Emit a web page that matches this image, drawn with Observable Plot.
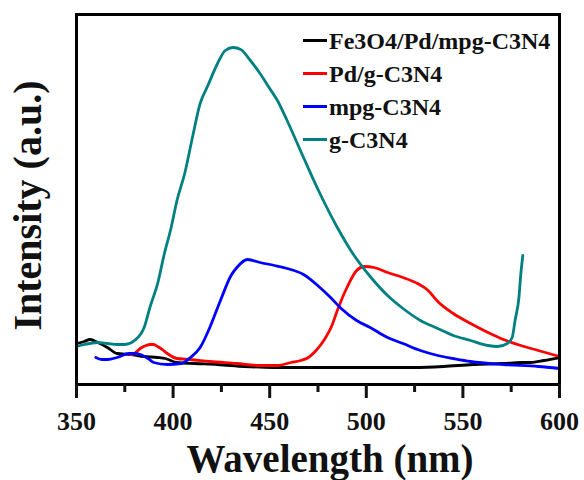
<!DOCTYPE html>
<html>
<head>
<meta charset="utf-8">
<script src="https://cdn.jsdelivr.net/npm/d3@7"></script>
<script src="https://cdn.jsdelivr.net/npm/@observablehq/plot@0.6"></script>
</head>
<body style="margin:0;padding:0;background:#fff">
<div id="wrap" style="position:relative;width:584px;height:480px;font-family:'Liberation Serif'"></div>
<script>
const wavelengthTicks = [350, 400, 450, 500, 550, 600];
const minorTicks = [375, 425, 475, 525, 575];
const seriesNames = ["Fe3O4/Pd/mpg-C3N4", "Pd/g-C3N4", "mpg-C3N4", "g-C3N4"];
const seriesColors = ["#000000", "#ff0000", "#0000ff", "#008080"];

const feWl  = [350, 354, 357, 361, 366, 371, 378, 385, 392, 396, 402, 411, 423, 437, 452, 475, 500, 525, 540, 555, 571, 580, 585, 592, 600];
const feInt = [41, 43, 45, 42, 37, 31, 30, 28, 27, 26, 22, 21, 20, 18, 17, 17, 17, 17, 18, 20, 21, 22, 22, 24, 27];

const pdWl  = [378, 380, 383, 386, 388, 390, 392, 395, 397, 402, 409, 419, 433, 445, 454, 461, 466, 470, 474, 478, 482, 485, 490, 495, 499, 504, 511, 519, 526.5, 532, 537, 545, 554, 563, 571, 580, 589, 600];
const pdInt = [30, 31, 36, 39, 40, 40, 38, 34, 31, 26, 25, 23, 21, 19, 19, 22, 24, 27, 34, 44, 58, 74, 97, 114, 118, 117, 112, 107, 101, 94, 83, 71, 61, 52, 45, 39, 34, 28];

const mpgWl  = [360, 363, 366, 371, 377, 380, 383, 387, 390, 397, 404, 409, 414, 419, 424.5, 430, 433, 438.5, 445, 452.5, 459, 467.5, 476, 481.5, 487, 495, 502, 511, 519, 528, 537, 545, 554, 571, 589, 600];
const mpgInt = [27, 25, 25, 27, 31, 31, 30, 26, 22, 20, 21, 27, 37, 57, 84, 109, 117, 125, 122, 119, 116, 110, 97, 87, 76, 64, 57, 47, 41, 34, 29, 26, 23, 20, 18, 16];

const gWl  = [350, 354, 357, 361, 366, 371, 375, 380, 385, 388, 392, 395.5, 399, 402, 406, 410, 414, 418, 423, 427, 431, 435, 440, 445, 450, 454, 459, 467.5, 476, 485, 493, 502, 511, 519, 528, 537, 545, 554, 563, 568, 573, 575.5, 577, 579, 580, 581];
const gInt = [38, 40, 41, 42, 41, 40, 40, 44, 57, 77, 101, 131, 157, 184, 211, 247, 281, 299, 321, 334, 337, 335, 324, 311, 296, 284, 264, 227, 191, 157, 131, 108, 89, 76, 64, 56, 49, 44, 39, 38, 41, 47, 64, 87, 111, 129];

const xTitle = "Wavelength (nm)";
const yTitle = "Intensity (a.u.)";

const seriesWl = [feWl, pdWl, mpgWl, gWl];
const seriesInt = [feInt, pdInt, mpgInt, gInt];
const rows = [];
seriesNames.forEach((name, k) => {
  seriesWl[k].forEach((w, i) => rows.push({series: name, wl: w, v: seriesInt[k][i]}));
});

const chart = Plot.plot({
  width: 584,
  height: 480,
  marginLeft: 76,
  marginRight: 25,
  marginTop: 14,
  marginBottom: 96,
  style: {background: "#fff", color: "#111", fontFamily: "'Liberation Serif'"},
  x: {domain: [350, 600]},
  y: {domain: [0, 370], axis: null},
  color: {domain: seriesNames, range: seriesColors},
  marks: [
    Plot.line(rows, {x: "wl", y: "v", z: "series", stroke: "series", strokeWidth: 2.8, strokeLinejoin: "round", curve: "monotone-x"}),
    Plot.frame({strokeWidth: 3, stroke: "#000"}),
    Plot.axisX({ticks: wavelengthTicks, tickSize: 14, strokeWidth: 3, tickPadding: 13, fontSize: 26, fontWeight: "bold", label: null, tickFormat: d => String(d)}),
    Plot.axisX({ticks: minorTicks, tickSize: 8, strokeWidth: 3, tickFormat: () => "", label: null}),
    Plot.text([xTitle], {frameAnchor: "bottom", textAnchor: "middle", lineAnchor: "middle", dx: 12, dy: 75, fontSize: 39, fontWeight: "bold", text: d => d}),
    Plot.text([yTitle], {frameAnchor: "left", textAnchor: "middle", lineAnchor: "middle", dx: -48, dy: 6, rotate: -90, fontSize: 40, fontWeight: "bold", text: d => d})
  ]
});
const wrap = document.getElementById("wrap");
wrap.appendChild(chart);

const legend = document.createElement("div");
legend.style.cssText = "position:absolute;left:303px;top:24px;";
seriesNames.forEach((name, k) => {
  const row = document.createElement("div");
  row.style.cssText = "display:flex;align-items:center;height:33px;";
  const sw = document.createElement("span");
  sw.style.cssText = "display:inline-block;width:24px;height:3px;margin-right:2px;background:" + seriesColors[k];
  const lab = document.createElement("span");
  lab.style.cssText = "font-family:'Liberation Serif';font-size:24px;font-weight:bold;color:#111;line-height:24px;";
  lab.textContent = name;
  row.appendChild(sw);
  row.appendChild(lab);
  legend.appendChild(row);
});
wrap.appendChild(legend);
</script>
</body>
</html>
